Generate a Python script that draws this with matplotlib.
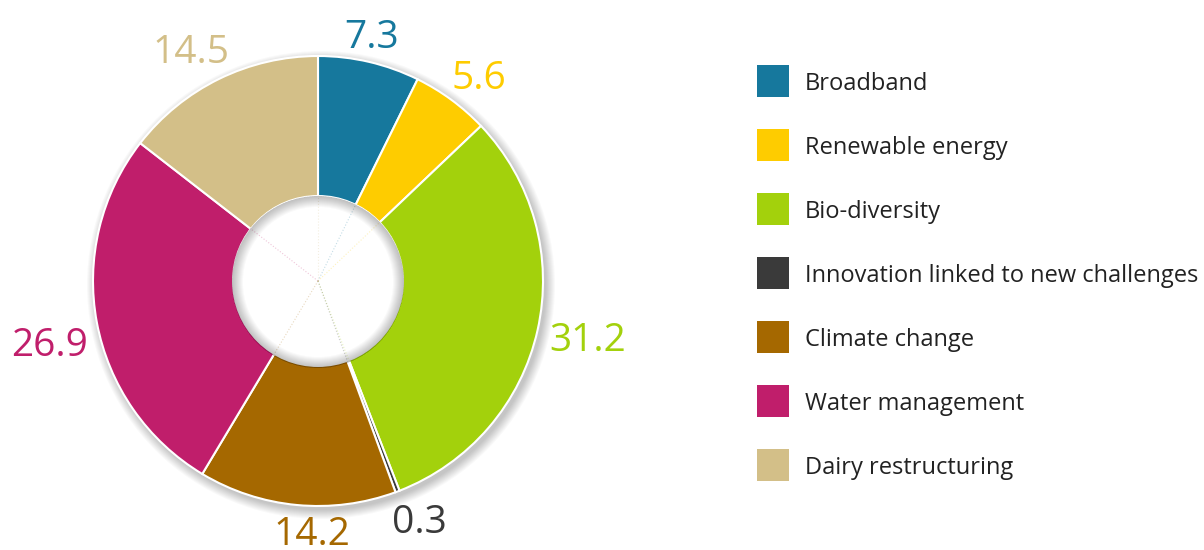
import numpy as np
import matplotlib
matplotlib.use('Agg')
import matplotlib.pyplot as plt
from matplotlib.patches import Circle, Wedge, Rectangle

# Data
categories = ['Broadband', 'Renewable energy', 'Bio-diversity',
              'Innovation linked to new challenges', 'Climate change',
              'Water management', 'Dairy restructuring']
values = [7.3, 5.6, 31.2, 0.3, 14.2, 26.9, 14.5]
colors = ['#16789d', '#fecc00', '#a3d10c', '#3a3a3a', '#a56800', '#c01e6b', '#d3bf88']

# small angle nudges for the value labels (degrees), to avoid crowding
label_nudge = [1, -1.5, 1, 2.5, 4, 2, 2.5]

plt.rcParams['font.family'] = ['Open Sans', 'DejaVu Sans']

W, H = 1204, 550
fig = plt.figure(figsize=(W / 100, H / 100), dpi=100)
ax = fig.add_axes([0, 0, 1, 1])

cx, cy = 318, H - 281
R = 225
r_in = 86

# soft outer shadow
for i in range(10):
    ax.add_patch(Circle((cx + 3, cy - 4), R + 9 - i, color='black', alpha=0.025, lw=0, zorder=0))

wedges, _ = ax.pie(values, colors=colors, startangle=90, counterclock=False,
                   center=(cx, cy), radius=R,
                   wedgeprops=dict(edgecolor='white', linewidth=1.5))

# hole
ax.add_patch(Circle((cx, cy), r_in, color='white', lw=0, zorder=5))
# faint wedge edges inside the hole
for w, c in zip(wedges, colors):
    a = np.deg2rad(w.theta1)
    ax.plot([cx, cx + r_in * np.cos(a)], [cy, cy + r_in * np.sin(a)],
            color=c, lw=0.8, alpha=0.25, ls=':', zorder=6)
# inner shadow
for k in range(1, 12):
    ax.add_patch(Wedge((cx, cy - 1), r_in, 0, 360, width=k, color='black',
                       alpha=0.022, lw=0, zorder=7))

ax.set_xlim(0, W)
ax.set_ylim(0, H)
ax.set_aspect('auto')
ax.axis('off')

# value labels, placed just outside the ring taking text size into account
renderer = fig.canvas.get_renderer()
gap = 10
for w, v, c, nd in zip(wedges, values, colors, label_nudge):
    mid = np.deg2rad((w.theta1 + w.theta2) / 2 + nd)
    t = ax.text(0, 0, f'{v:.1f}', color=c, fontsize=28, ha='center', va='center', zorder=8)
    bb = t.get_window_extent(renderer)
    hw, hh = bb.width / 2, 13
    d = R + gap + hw * abs(np.cos(mid)) + hh * abs(np.sin(mid))
    t.set_position((cx + d * np.cos(mid), cy + d * np.sin(mid) - 5))

# legend
for i, (name, c) in enumerate(zip(categories, colors)):
    y = H - (81 + 64 * i)
    ax.add_patch(Rectangle((757, y - 16), 32, 32, color=c, lw=0))
    ax.text(805, y - 3, name, fontsize=17, color='#222222', va='center', ha='left')

fig.savefig('out.png', dpi=100)
